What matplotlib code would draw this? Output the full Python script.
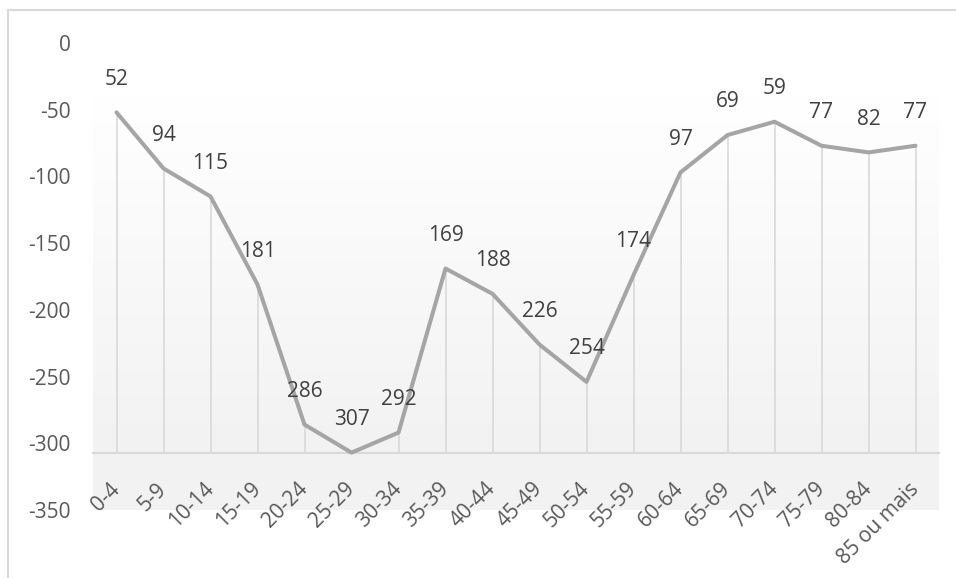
import numpy as np
import matplotlib
matplotlib.use("Agg")
import matplotlib.pyplot as plt
from matplotlib.patches import Rectangle

# faixas etarias e saldo (negativo)
faixas = ["0-4", "5-9", "10-14", "15-19", "20-24", "25-29", "30-34", "35-39",
          "40-44", "45-49", "50-54", "55-59", "60-64", "65-69", "70-74",
          "75-79", "80-84", "85 ou mais"]
saldo = [-52, -94, -115, -181, -286, -307, -292, -169, -188, -226, -254,
         -174, -97, -69, -59, -77, -82, -77]
yticks = [0, -50, -100, -150, -200, -250, -300, -350]

plt.rcParams["font.family"] = ["Open Sans", "DejaVu Sans"]

fig = plt.figure(figsize=(9.56, 5.78), dpi=100)
ax = fig.add_axes([93 / 956, 1 - 510 / 578, (939 - 93) / 956, (510 - 43) / 578])

x = np.arange(len(faixas))
ax.set_xlim(-0.5, len(faixas) - 0.5)
ax.set_ylim(-350, 0)

# fundo em degrade
axis_y = min(saldo)
grad = np.linspace(0, 1, 256).reshape(-1, 1)
ax.imshow(grad, extent=(-0.5, len(faixas) - 0.5, axis_y, -40), aspect="auto",
          cmap=matplotlib.colors.LinearSegmentedColormap.from_list("g", ["#ffffff", "#f2f2f2"]),
          origin="upper", zorder=0)
ax.axhspan(-350, axis_y, color="#f2f2f2", zorder=0, lw=0)

# linhas de queda
ax.vlines(x, axis_y, saldo, color="#d9d9d9", lw=1.2, zorder=1)
ax.plot(x, saldo, color="#a5a5a5", lw=2.9, zorder=3, solid_capstyle="round")

for xi, v in zip(x, saldo):
    ax.annotate(str(abs(v)), (xi, v), xytext=(0, 24), textcoords="offset points",
                ha="center", va="center", fontsize=15, color="#404040", zorder=4)

for s in ["top", "right", "left"]:
    ax.spines[s].set_visible(False)
ax.spines["bottom"].set_position(("data", axis_y))
ax.spines["bottom"].set_color("#d9d9d9")
ax.spines["bottom"].set_linewidth(1.5)
ax.spines["bottom"].set_zorder(2)

ax.set_xticks(x)
ax.set_xticklabels(faixas, rotation=45, ha="right", va="center",
                   rotation_mode="anchor", fontsize=15, color="#595959")
ax.tick_params(axis="x", length=0, pad=24)
ax.set_yticks(yticks)
ax.set_yticklabels([str(t) for t in yticks], fontsize=15, color="#595959")
ax.tick_params(axis="y", length=0, pad=16)

# moldura
fig.patches.append(Rectangle((8 / 956, -0.1), 1.2, 1 - 10 / 578 + 0.1,
                             transform=fig.transFigure, fill=False,
                             edgecolor="#d9d9d9", lw=1.5))

fig.savefig("out.png", dpi=100)
